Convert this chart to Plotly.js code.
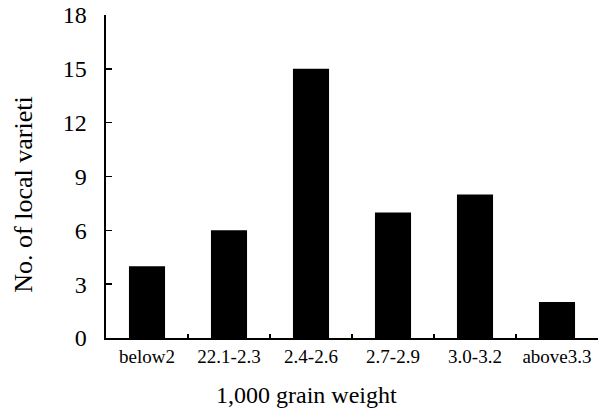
<!DOCTYPE html>
<html>
<head>
<meta charset="utf-8">
<script src="https://cdn.plot.ly/plotly-3.0.1.min.js"></script>
<style>html,body{margin:0;padding:0;background:#fff;}#chart{width:601px;height:410px;}</style>
</head>
<body>
<div id="chart"></div>
<script>
var categories = ["below2", "22.1-2.3", "2.4-2.6", "2.7-2.9", "3.0-3.2", "above3.3"];
var counts = [4, 6, 15, 7, 8, 2];
var yTicks = [0, 3, 6, 9, 12, 15, 18];

var font = "Liberation Serif";
var data = [{
  type: "bar",
  x: categories,
  y: counts,
  marker: {color: "#000", line: {width: 0}},
  hoverinfo: "x+y"
}];
var layout = {
  width: 601, height: 410,
  margin: {l: 106, r: 3, t: 15, b: 72},
  paper_bgcolor: "#fff", plot_bgcolor: "#fff",
  showlegend: false,
  bargap: 0.56,
  font: {family: font, color: "#000"},
  xaxis: {
    type: "category",
    showline: true, linecolor: "#000", linewidth: 2,
    ticks: "inside", tickson: "boundaries", ticklen: 4, tickwidth: 1.5, tickcolor: "#000",
    tickangle: 0,
    showgrid: false, zeroline: false,
    tickfont: {family: font, size: 19, color: "#000"}
  },
  yaxis: {
    range: [0, 18],
    tickvals: yTicks,
    ticktext: yTicks.map(String),
    showline: true, linecolor: "#000", linewidth: 2.5,
    ticks: "inside", ticklen: 6, tickwidth: 1.5, tickcolor: "#000",
    ticklabelstandoff: 12,
    showgrid: false, zeroline: false,
    tickfont: {family: font, size: 24, color: "#000"}
  },
  annotations: [
    {text: "No. of local varieti", xref: "paper", yref: "paper", x: -0.167, y: 0.443,
     xanchor: "center", yanchor: "middle", textangle: -90, showarrow: false,
     font: {family: font, size: 26, color: "#000"}},
    {text: "1,000 grain weight", xref: "paper", yref: "paper", x: 0.408, y: -0.178,
     xanchor: "center", yanchor: "middle", showarrow: false,
     font: {family: font, size: 24, color: "#000"}}
  ]
};
Plotly.newPlot("chart", data, layout, {displayModeBar: false, staticPlot: true});
</script>
</body>
</html>
